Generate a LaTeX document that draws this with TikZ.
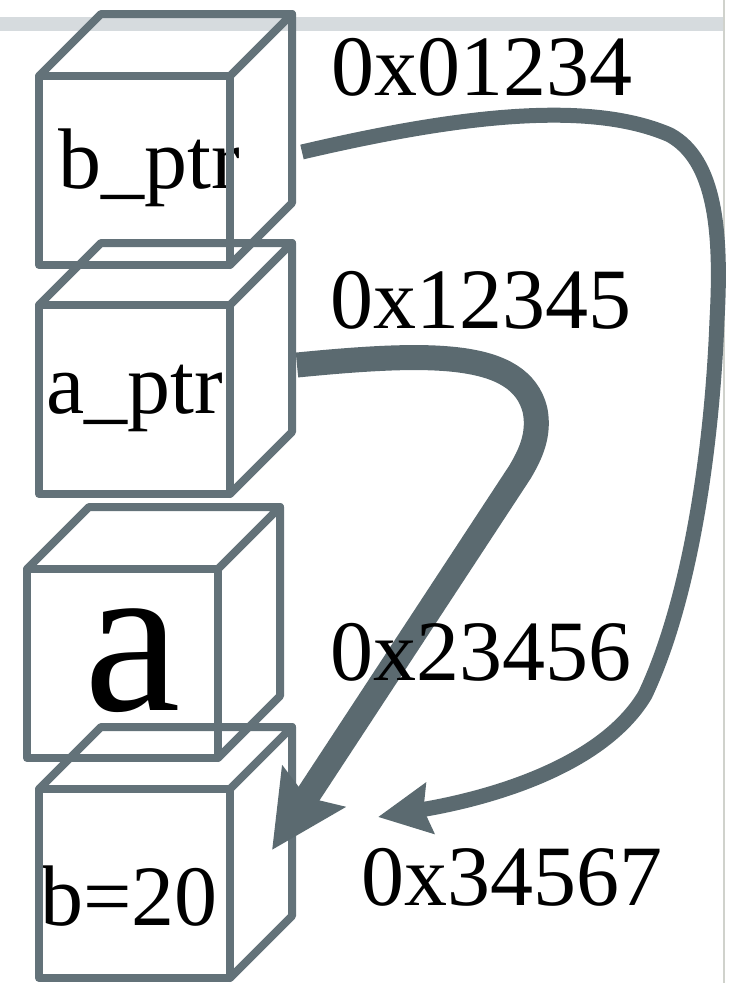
\documentclass[tikz,border=0pt]{standalone}
\usepackage{fontspec}
\setmainfont{Liberation Serif}
\usetikzlibrary{arrows.meta}
\definecolor{cubeline}{RGB}{99,114,121}
\definecolor{arrowgrey}{RGB}{91,106,112}
\definecolor{bandgrey}{RGB}{214,219,222}
\definecolor{rulegrey}{RGB}{208,210,204}
\begin{document}
\begin{tikzpicture}[x=1pt,y=-1pt,
  face/.style={draw=cubeline, line width=8pt, line join=round, minimum width=191pt,
    minimum height=189pt, inner sep=0pt, outer sep=0pt, anchor=north west},
  edge/.style={draw=cubeline, line width=8pt, line join=round, line cap=round},
  lbl/.style={inner sep=0pt, anchor=base west, font=\fontsize{86pt}{90pt}\selectfont},
  addr/.style={lbl},
  link/.style={draw=arrowgrey, line join=round}
]
\useasboundingbox (0,0) rectangle (736,983);

% page band and right rule
\fill[bandgrey] (0,17) rectangle (723,31);
\draw[rulegrey, line width=2.5pt] (724,0) -- (724,983);

% labels inside the boxes
\node[lbl] (bptr) at (58,188) {b\_ptr};
\node[lbl] (aptr) at (46,413) {a\_ptr};
\node[lbl, font=\fontsize{217pt}{220pt}\selectfont] (a) at (84,710) {a};
\node[lbl] (b) at (40,925) {b=20};

% memory cells drawn as open cubes: front face node, then top and right faces
\foreach \name/\px/\py in {c1/39/76, c2/39/305, c3/27/569, c4/39/789}{
  \node[face] (\name) at (\px,\py) {};
  \draw[edge] (\name.north west) -- ++(62,-62) -- ++(191,0) -- (\name.north east);
  \draw[edge] (\name.north east) ++(62,-62) -- ++(0,189) -- (\name.south east);
}

% b_ptr points to b
\draw[link, line width=15pt, -{Stealth[length=52pt,width=50pt,inset=6pt]}]
  ([xshift=72pt,yshift=18.5pt]c1.east)
  .. controls (460,115) and (590,100) .. (670,135)
  .. controls (715,160) and (722,230) .. (717,320)
  .. controls (712,450) and (690,600) .. (645,695)
  .. controls (600,770) and (480,800) .. ([xshift=148pt,yshift=66.5pt]c4.east);

% a_ptr points to b as well
\draw[link, line width=25pt, -{Stealth[length=75pt,width=73pt,inset=12pt]}]
  ([xshift=67pt,yshift=34.5pt]c2.east)
  .. controls (430,352) and (520,350) .. (535,410)
  .. controls (540,435) and (530,455) .. (520,472)
  -- ([xshift=42pt,yshift=33.5pt]c4.east);

% addresses
\node[addr] (addr1) at (331,95) {0x01234};
\node[addr] (addr2) at (330,328) {0x12345};
\node[addr] (addr3) at (330,680) {0x23456};
\node[addr] (addr4) at (361,905) {0x34567};
\end{tikzpicture}
\end{document}
